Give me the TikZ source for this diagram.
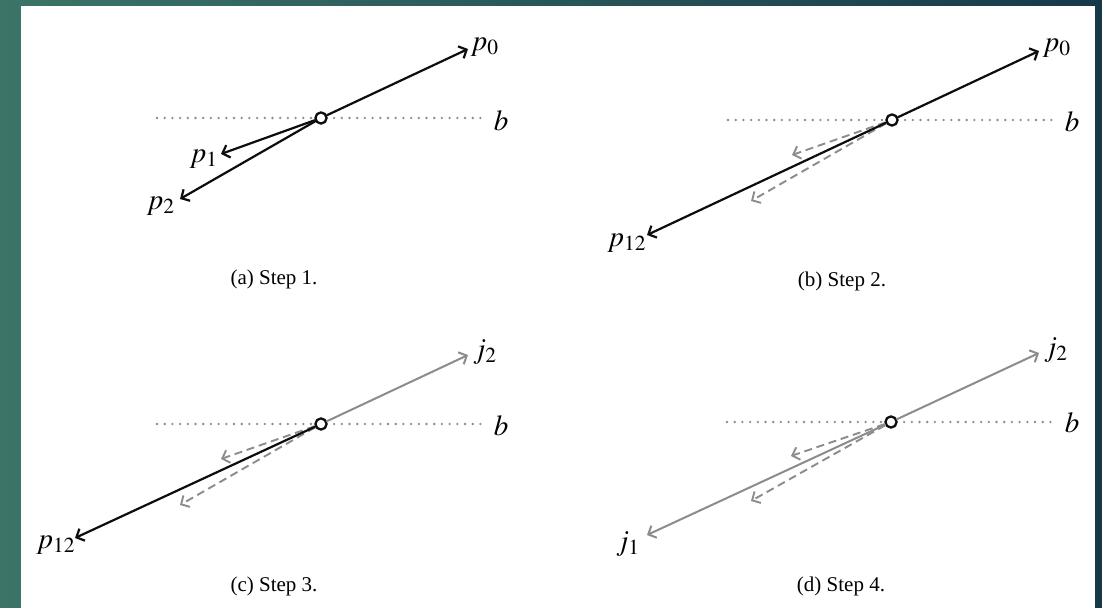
\documentclass[tikz,border=0pt]{standalone}
\usepackage{mathptmx}
\usepackage{fontspec}
\setmainfont{Liberation Serif}
\usetikzlibrary{arrows.meta}
\definecolor{VecInk}{gray}{0.05}
\definecolor{VecGhost}{gray}{0.55}
\definecolor{VecBase}{gray}{0.55}
\definecolor{VecTealLeft}{RGB}{60,116,104}
\definecolor{VecTealRight}{RGB}{22,57,74}
\tikzset{
    vec/diagram/.style={
        x=0.5pt, y=-0.5pt,
        font=\fontsize{10.5}{12}\selectfont,
        line join=round,
        >={Straight Barb[length=3.2pt, width=6.6pt]}
    },
    vec/main/.style={draw=VecInk, line width=1.1pt, line cap=round, ->},
    vec/joint/.style={draw=VecGhost, line width=1pt, line cap=round, ->},
    vec/ghost/.style={
        draw=VecGhost, line width=0.95pt,
        dash pattern=on 4pt off 2.4pt, ->
    },
    vec/base/.style={
        draw=VecBase, line width=1.3pt, line cap=round,
        dash pattern=on 0pt off 3.85pt
    },
    vec/pivot/.style={
        circle, draw=VecInk, fill=white, line width=1.15pt,
        minimum size=5.6pt, inner sep=0pt
    },
    vec/label/.style={inner sep=0pt, font=\fontsize{14.5}{16}\selectfont},
    vec/caption/.style={inner sep=0pt, anchor=base}
}

\begin{document}
\begin{tikzpicture}[vec/diagram]
    \useasboundingbox (0,0) rectangle (1102,608);
    \shade[left color=VecTealLeft, right color=VecTealRight] (0,0) rectangle (1102,608);
    \fill[white] (21,6) rectangle (1095,608);

    % (a) step 1
    \begin{scope}[shift={(321,118)}]
        \coordinate (aL) at (-164,0);
        \coordinate (aR) at (161,0);
        \coordinate (a0) at (147,-69);
        \coordinate (a1) at (-100,36);
        \coordinate (a2) at (-141,81);
        \draw[vec/base] (aL) -- (aR);
        \node[vec/label] (ab) at (180,3) {$b$};
        \node[vec/pivot] (ao) at (0,0) {};
        \draw[vec/main] (ao) -- (a0);
        \draw[vec/main] (ao) -- (a1);
        \draw[vec/main] (ao) -- (a2);
        \node[vec/label] (ap0) at (164,-71) {$p_0$};
        \node[vec/label] (ap1) at (-117,41) {$p_1$};
        \node[vec/label] (ap2) at (-160,88) {$p_2$};
        \node[vec/caption] (acap) at (-47,167) {(a) Step 1.};
    \end{scope}

    % (b) step 2
    \begin{scope}[shift={(892,120)}]
        \coordinate (bL) at (-164,0);
        \coordinate (bR) at (161,0);
        \coordinate (b0) at (147,-69);
        \coordinate (b1) at (-100,35);
        \coordinate (b2) at (-141,81);
        \coordinate (b12) at (-245,115);
        \draw[vec/base] (bL) -- (bR);
        \node[vec/label] (bb) at (180,2) {$b$};
        \node[vec/pivot] (bo) at (0,0) {};
        \draw[vec/ghost] (bo) -- (b1);
        \draw[vec/ghost] (bo) -- (b2);
        \draw[vec/main] (bo) -- (b0);
        \draw[vec/main] (bo) -- (b12);
        \node[vec/label] (bp0) at (165,-72) {$p_0$};
        \node[vec/label] (bp12) at (-265,123) {$p_{12}$};
        \node[vec/caption] (bcap) at (-50,167) {(b) Step 2.};
    \end{scope}

    % (c) step 3
    \begin{scope}[shift={(321,424)}]
        \coordinate (cL) at (-164,0);
        \coordinate (cR) at (161,0);
        \coordinate (c2) at (147,-69);
        \coordinate (c1) at (-100,35);
        \coordinate (c22) at (-141,81);
        \coordinate (c12) at (-246,114);
        \draw[vec/base] (cL) -- (cR);
        \node[vec/label] (cb) at (180,2) {$b$};
        \node[vec/pivot] (co) at (0,0) {};
        \draw[vec/ghost] (co) -- (c1);
        \draw[vec/ghost] (co) -- (c22);
        \draw[vec/joint] (co) -- (c2);
        \draw[vec/main] (co) -- (c12);
        \node[vec/label] (cj2) at (164,-72) {$j_2$};
        \node[vec/label] (cp12) at (-265,121) {$p_{12}$};
        \node[vec/caption] (ccap) at (-47,167) {(c) Step 3.};
    \end{scope}

    % (d) step 4
    \begin{scope}[shift={(891,422)}]
        \coordinate (dL) at (-164,0);
        \coordinate (dR) at (162,0);
        \coordinate (d2) at (148,-69);
        \coordinate (d1) at (-100,34);
        \coordinate (d22) at (-140,79);
        \coordinate (d12) at (-244,113);
        \draw[vec/base] (dL) -- (dR);
        \node[vec/label] (db) at (181,1) {$b$};
        \node[vec/pivot] (do) at (0,0) {};
        \draw[vec/ghost] (do) -- (d1);
        \draw[vec/ghost] (do) -- (d22);
        \draw[vec/joint] (do) -- (d2);
        \draw[vec/joint] (do) -- (d12);
        \node[vec/label] (dj2) at (165,-72) {$j_2$};
        \node[vec/label] (dj1) at (-263,122) {$j_1$};
        \node[vec/caption] (dcap) at (-50,169) {(d) Step 4.};
    \end{scope}
\end{tikzpicture}
\end{document}
